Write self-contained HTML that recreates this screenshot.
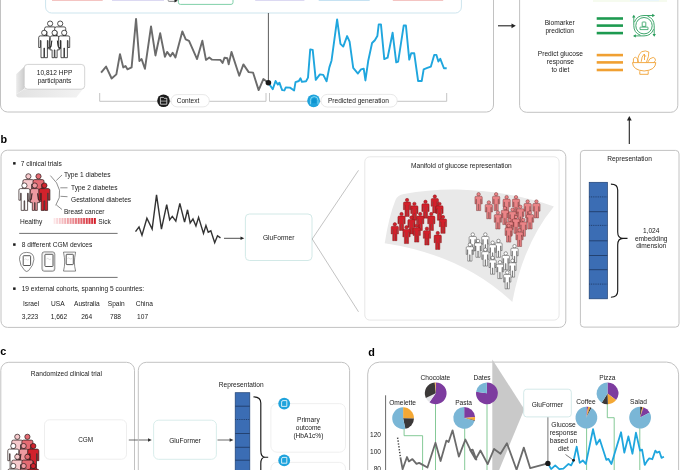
<!DOCTYPE html>
<html><head><meta charset="utf-8"><style>
html,body{margin:0;padding:0;background:#fff;}
body{width:685px;height:470px;overflow:hidden;}
svg{display:block;font-family:"Liberation Sans", sans-serif;will-change:transform;}
</style></head><body>
<svg width="685" height="470" viewBox="0 0 685 470">
<rect width="685" height="470" fill="#fff"/>
<rect x="0.5" y="-20" width="493" height="132" rx="7" fill="none" stroke="#c2c2c2" stroke-width="1"/>
<rect x="45.6" y="-30" width="415.8" height="43" rx="6" fill="none" stroke="#cde5ee" stroke-width="1"/>
<rect x="52" y="-1" width="50.7" height="2" fill="#f4c4c2"/>
<rect x="112" y="-1" width="52" height="2" fill="#dcd9f2"/>
<rect x="255.2" y="-1" width="49.2" height="2" fill="#dcd9f2"/>
<rect x="318.7" y="-1" width="51" height="2" fill="#c6e2f2"/>
<rect x="392.8" y="-1" width="50.4" height="2" fill="#f4c4c2"/>
<rect x="178.4" y="-10" width="54.6" height="14.4" rx="2" fill="none" stroke="#72cb9f" stroke-width="0.9"/>
<rect x="168.2" y="-3" width="7" height="4.5" rx="1" fill="#e8e8e8" stroke="#555" stroke-width="0.6"/>
<path d="M174.5,-1 L177.8,0.8 L174.5,2.6 Z" fill="#222"/>
<circle cx="50.1" cy="23.6" r="2.6" fill="#fff" stroke="#1a1a1a" stroke-width="0.75"/>
<path transform="translate(44.6,26.9)" d="M1.6,0 H9.4 A1.6,1.6 0 0 1 11,1.6 V11.6 H9.3 V4.6 H8.7 V21.8 H5.8 V12.2 H5.2 V21.8 H2.3 V4.6 H1.7 V11.6 H0 V1.6 A1.6,1.6 0 0 1 1.6,0 Z" fill="#fff" stroke="#1a1a1a" stroke-width="0.75"/>
<circle cx="60.2" cy="23.6" r="2.6" fill="#fff" stroke="#1a1a1a" stroke-width="0.75"/>
<path transform="translate(54.7,26.9)" d="M1.6,0 H9.4 A1.6,1.6 0 0 1 11,1.6 V11.6 H9.3 V4.6 H8.7 V21.8 H5.8 V12.2 H5.2 V21.8 H2.3 V4.6 H1.7 V11.6 H0 V1.6 A1.6,1.6 0 0 1 1.6,0 Z" fill="#fff" stroke="#1a1a1a" stroke-width="0.75"/>
<circle cx="44.2" cy="32.8" r="2.6" fill="#fff" stroke="#1a1a1a" stroke-width="0.75"/>
<path transform="translate(38.7,35.9)" d="M1.6,0 H9.4 A1.6,1.6 0 0 1 11,1.6 V11.6 H9.3 V4.6 H8.7 V21.8 H5.8 V12.2 H5.2 V21.8 H2.3 V4.6 H1.7 V11.6 H0 V1.6 A1.6,1.6 0 0 1 1.6,0 Z" fill="#fff" stroke="#1a1a1a" stroke-width="0.75"/>
<circle cx="54.6" cy="32.8" r="2.6" fill="#fff" stroke="#1a1a1a" stroke-width="0.75"/>
<path transform="translate(49.7,35.9)" d="M2.2,0 H7.6 A1.6,1.6 0 0 1 9.2,1.4 L9.8,10.8 H8.3 L7.7,4.8 L9.6,14 H7.4 V21.8 H5.2 V14 H4.6 V21.8 H2.4 V14 H0.2 L2.1,4.8 L1.5,10.8 H0 L0.6,1.4 A1.6,1.6 0 0 1 2.2,0 Z" fill="#fff" stroke="#1a1a1a" stroke-width="0.75"/>
<circle cx="64.2" cy="32.8" r="2.6" fill="#fff" stroke="#1a1a1a" stroke-width="0.75"/>
<path transform="translate(58.7,35.9)" d="M1.6,0 H9.4 A1.6,1.6 0 0 1 11,1.6 V11.6 H9.3 V4.6 H8.7 V21.8 H5.8 V12.2 H5.2 V21.8 H2.3 V4.6 H1.7 V11.6 H0 V1.6 A1.6,1.6 0 0 1 1.6,0 Z" fill="#fff" stroke="#1a1a1a" stroke-width="0.75"/>
<defs><linearGradient id="shL" x1="0" y1="0" x2="1" y2="0"><stop offset="0" stop-color="#ececec"/><stop offset="1" stop-color="#c9c9c9"/></linearGradient><linearGradient id="shB" x1="0" y1="0" x2="1" y2="0"><stop offset="0" stop-color="#e2e2e2"/><stop offset="1" stop-color="#f3f3f3"/></linearGradient></defs>
<path d="M24.2,89.2 L84.2,87.5 L76.2,97.4 L19.2,97.4 Q16.2,97.4 16.2,94.4 Z" fill="url(#shB)"/>
<path d="M25,66 L16.2,74.2 L16.2,94.4 L24.5,88.5 Z" fill="url(#shL)"/>
<rect x="24.2" y="64.4" width="60.5" height="24.8" rx="3.5" fill="#fff" stroke="#c8c8c8" stroke-width="0.8"/>
<text x="54.5" y="75.2" font-size="6.6" text-anchor="middle" font-weight="normal" fill="#1a1a1a" >10,812 HPP</text>
<text x="54.5" y="83.0" font-size="6.6" text-anchor="middle" font-weight="normal" fill="#1a1a1a" >participants</text>
<polyline points="101.1,72.68 106.09,66.57 111.64,78.5 116.35,74.34 119.96,54.09 123.29,67.41 125.51,66.02 127.45,69.35 131.61,67.41 136.05,18.86 139.38,61.03 141.6,59.08 144.92,68.79 151.03,26.35 155.46,55.48 160.18,33.29 164.9,56.87 167.12,51.87 170.44,56.31 172.66,52.7 175.44,57.42 182.37,31.35 185.7,39.39 189.03,40.78 197.07,59.08 202.34,40.78 205.95,59.92 209.28,57.42 212.05,59.64 220.37,59.92 222.59,62.97 224.54,57.7 227.31,58.25 228.7,64.36 231.47,51.87 239.24,75.73 243.4,64.36 248.67,72.12 253.11,72.68 258.65,90.15 263.37,79.06 268.36,82.66" fill="none" stroke="#6b6b6b" stroke-width="1.9" stroke-linejoin="round"/>
<polyline points="268.33,82.66 270.55,85.99 272.77,89.32 275.54,81.0 277.76,84.6 279.42,82.66 281.09,87.38 282.2,90.15 284.42,90.43 285.8,87.38 289.97,87.66 294.13,90.43 295.51,82.11 298.84,81.0 300.51,78.22 301.89,81.83 306.05,81.28 308.0,77.67 310.21,49.38 312.71,49.93 315.76,79.89 319.92,74.34 323.25,74.9 326.58,81.28 329.36,67.41 331.57,60.47 337.12,19.42 340.45,43.83 343.22,46.6 347.11,36.06 349.6,41.61 353.21,67.96 357.93,73.51 360.98,69.35 363.75,68.79 365.42,80.44 368.19,61.03 372.07,43.0 374.85,40.22 377.34,36.06 378.73,24.41 380.95,24.41 384.28,59.08 387.61,57.7 392.6,32.73 396.21,62.41 398.15,61.58 403.7,25.52 405.92,25.52 409.24,59.64 411.19,53.26 414.24,53.26 418.12,81.0 421.73,81.0 423.67,69.35 427.27,67.96 430.88,66.57 434.21,54.92 436.43,54.92 438.37,61.58 440.31,58.81 443.92,68.24 446.69,68.24" fill="none" stroke="#1fa6de" stroke-width="1.9" stroke-linejoin="round"/>
<line x1="268.4" y1="13" x2="268.4" y2="82.7" stroke="#333" stroke-width="0.8"/>
<circle cx="268.4" cy="82.7" r="2.8" fill="#1a1a1a"/>
<path d="M99.7,93 V101.3 H266 V93" fill="none" stroke="#bdbdbd" stroke-width="0.9"/>
<path d="M269.5,93 V101.3 H446.7 V93" fill="none" stroke="#bdbdbd" stroke-width="0.9"/>
<rect x="171" y="94.6" width="38.3" height="12.3" rx="6.15" fill="#fff" stroke="#e2e2e2" stroke-width="0.8"/>
<text x="188" y="103.1" font-size="6.5" text-anchor="middle" font-weight="normal" fill="#1a1a1a" >Context</text>
<circle cx="163.5" cy="100.8" r="6.3" fill="#1a1a1a"/>
<path d="M160.4,97.4 H163.4 L164.2,98.3 H166.8 V104.2 H160.4 Z" fill="none" stroke="#f2f2f2" stroke-width="0.75"/><line x1="160.6" y1="101.1" x2="166.6" y2="101.1" stroke="#f2f2f2" stroke-width="0.6"/>
<rect x="320.9" y="94.4" width="76.3" height="12.6" rx="6.3" fill="#fff" stroke="#e2e2e2" stroke-width="0.8"/>
<text x="358.4" y="103.1" font-size="6.6" text-anchor="middle" font-weight="normal" fill="#1a1a1a" >Predicted generation</text>
<circle cx="313.6" cy="100.8" r="6.4" fill="#1fa3dc"/>
<path d="M310.4,104.3 V100.4 A3.8,3.8 0 0 1 318,100.4 V104.3" fill="none" stroke="#9be6f9" stroke-width="0.8"/><path d="M312,103.2 V100.6 A2.2,2.4 0 0 1 316.4,100.6 V103.2 Z" fill="#0d94d0"/>
<line x1="498" y1="25.8" x2="512" y2="25.8" stroke="#222" stroke-width="1.1"/><path d="M511.5,23.4 L515.8,25.8 L511.5,28.2 Z" fill="#222"/>
<rect x="519.6" y="-20" width="158.2" height="132.3" rx="7" fill="none" stroke="#c2c2c2" stroke-width="1"/>
<rect x="593" y="-1" width="74" height="3" fill="#f6fbef"/>
<rect x="630" y="-1" width="29" height="2.2" fill="#eaf6fb"/>
<text x="559.7" y="24.8" font-size="6.6" text-anchor="middle" font-weight="normal" fill="#1a1a1a" >Biomarker</text>
<text x="559.7" y="32.9" font-size="6.6" text-anchor="middle" font-weight="normal" fill="#1a1a1a" >prediction</text>
<line x1="596.7" y1="18.5" x2="623" y2="18.5" stroke="#1d9a50" stroke-width="2.6"/>
<line x1="596.7" y1="25.6" x2="623" y2="25.6" stroke="#1d9a50" stroke-width="2.6"/>
<line x1="596.7" y1="33.1" x2="623" y2="33.1" stroke="#1d9a50" stroke-width="2.6"/>
<line x1="596.7" y1="55.1" x2="623" y2="55.1" stroke="#f0a032" stroke-width="2.6"/>
<line x1="596.7" y1="62.4" x2="623" y2="62.4" stroke="#f0a032" stroke-width="2.6"/>
<line x1="596.7" y1="70.0" x2="623" y2="70.0" stroke="#f0a032" stroke-width="2.6"/>
<text x="560.4" y="56.4" font-size="6.6" text-anchor="middle" font-weight="normal" fill="#1a1a1a" >Predict glucose</text>
<text x="560.4" y="64.3" font-size="6.6" text-anchor="middle" font-weight="normal" fill="#1a1a1a" >response</text>
<text x="560.4" y="71.8" font-size="6.6" text-anchor="middle" font-weight="normal" fill="#1a1a1a" >to diet</text>
<circle cx="644.0" cy="25.7" r="8.2" fill="none" stroke="#2a9d5c" stroke-width="0.9"/>
<path d="M642.2,26.4 V22.6 Q642.2,22 642.8,22 H645.2 Q645.8,22 645.8,22.6 V26.4 Z M640,29.6 V27.6 Q640,27.1 640.5,27.1 H647.5 Q648,27.1 648,27.6 V29.6 Z" fill="none" stroke="#2a9d5c" stroke-width="0.8"/>
<path d="M655.00,15.50 L652.20,17.20 L652.20,13.80 Z" fill="#2a9d5c"/>
<path d="M654.20,36.70 L652.50,33.90 L655.90,33.90 Z" fill="#2a9d5c"/>
<path d="M633.00,35.90 L635.80,34.20 L635.80,37.60 Z" fill="#2a9d5c"/>
<path d="M633.80,14.70 L635.50,17.50 L632.10,17.50 Z" fill="#2a9d5c"/>
<path d="M634.42,22.21 A10.2,10.2 0 0 1 644.00,15.50 L653.80,15.50 M647.49,16.12 A10.2,10.2 0 0 1 654.20,25.70 L654.20,35.50 M653.58,29.19 A10.2,10.2 0 0 1 644.00,35.90 L634.20,35.90 M640.51,35.28 A10.2,10.2 0 0 1 633.80,25.70 L633.80,15.90" fill="none" stroke="#2a9d5c" stroke-width="0.9"/>
<path d="M632.5,62.6 H655.8 Q655.5,70.2 644.15,71 Q632.8,70.2 632.5,62.6 Z" fill="#fff" stroke="#f0a032" stroke-width="0.9"/>
<path d="M639.8,71.2 V74.3 H648.2 V71.2" fill="none" stroke="#f0a032" stroke-width="0.9"/>
<path d="M633.4,62.4 Q632.6,57.8 635.2,57 Q638.2,57.8 638.6,62.4 M637.6,62.4 Q637.6,54.5 641.8,51.7 Q645.5,50 648.8,52 Q649.2,56 646.4,62.4 M641.2,61.8 Q641.5,56.5 644.2,54 M644.2,56 H646.2 M644.5,54 V60 M647.6,62.4 Q649.5,57.6 653.2,57.4 Q656,58.4 655.4,60.5 Q654.8,61.8 653.6,62.4" fill="none" stroke="#f0a032" stroke-width="0.85"/>
<line x1="629.3" y1="144" x2="629.3" y2="120" stroke="#222" stroke-width="1.1"/><path d="M626.9,120.4 L629.3,116 L631.7,120.4 Z" fill="#222"/>
<text x="0.5" y="142.6" font-size="10.8" text-anchor="start" font-weight="bold" fill="#000" >b</text>
<rect x="1" y="150.2" width="564.8" height="177.2" rx="6.5" fill="none" stroke="#c2c2c2" stroke-width="1"/>
<rect x="13.1" y="162.1" width="2.5" height="2.5" fill="#1a1a1a"/>
<text x="20.7" y="165.8" font-size="6.6" text-anchor="start" font-weight="normal" fill="#1a1a1a" >7 clinical trials</text>
<circle cx="28.4" cy="176.29999999999998" r="2.6" fill="#f6c9cc" stroke="#2a1a1a" stroke-width="0.7"/>
<path transform="translate(22.9,179.6)" d="M1.6,0 H9.4 A1.6,1.6 0 0 1 11,1.6 V11.6 H9.3 V4.6 H8.7 V21.8 H5.8 V12.2 H5.2 V21.8 H2.3 V4.6 H1.7 V11.6 H0 V1.6 A1.6,1.6 0 0 1 1.6,0 Z" fill="#f6c9cc" stroke="#2a1a1a" stroke-width="0.7"/>
<circle cx="38.5" cy="176.29999999999998" r="2.6" fill="#e56b73" stroke="#2a1a1a" stroke-width="0.7"/>
<path transform="translate(33.0,179.6)" d="M1.6,0 H9.4 A1.6,1.6 0 0 1 11,1.6 V11.6 H9.3 V4.6 H8.7 V21.8 H5.8 V12.2 H5.2 V21.8 H2.3 V4.6 H1.7 V11.6 H0 V1.6 A1.6,1.6 0 0 1 1.6,0 Z" fill="#e56b73" stroke="#2a1a1a" stroke-width="0.7"/>
<circle cx="24.4" cy="185.5" r="2.6" fill="#ffffff" stroke="#2a1a1a" stroke-width="0.7"/>
<path transform="translate(18.9,188.6)" d="M1.6,0 H9.4 A1.6,1.6 0 0 1 11,1.6 V11.6 H9.3 V4.6 H8.7 V21.8 H5.8 V12.2 H5.2 V21.8 H2.3 V4.6 H1.7 V11.6 H0 V1.6 A1.6,1.6 0 0 1 1.6,0 Z" fill="#ffffff" stroke="#2a1a1a" stroke-width="0.7"/>
<circle cx="34.8" cy="185.5" r="2.6" fill="#ee9aa1" stroke="#2a1a1a" stroke-width="0.7"/>
<path transform="translate(29.9,188.6)" d="M2.2,0 H7.6 A1.6,1.6 0 0 1 9.2,1.4 L9.8,10.8 H8.3 L7.7,4.8 L9.6,14 H7.4 V21.8 H5.2 V14 H4.6 V21.8 H2.4 V14 H0.2 L2.1,4.8 L1.5,10.8 H0 L0.6,1.4 A1.6,1.6 0 0 1 2.2,0 Z" fill="#ee9aa1" stroke="#2a1a1a" stroke-width="0.7"/>
<circle cx="44.4" cy="185.5" r="2.6" fill="#d1222c" stroke="#2a1a1a" stroke-width="0.7"/>
<path transform="translate(38.9,188.6)" d="M1.6,0 H9.4 A1.6,1.6 0 0 1 11,1.6 V11.6 H9.3 V4.6 H8.7 V21.8 H5.8 V12.2 H5.2 V21.8 H2.3 V4.6 H1.7 V11.6 H0 V1.6 A1.6,1.6 0 0 1 1.6,0 Z" fill="#d1222c" stroke="#2a1a1a" stroke-width="0.7"/>
<path d="M50.4,175.6 Q66,190 55.7,205.4" fill="none" stroke="#444" stroke-width="0.6"/>
<path d="M56.3,180.5 L62,175 M60.3,187.8 L67.5,187.8 M60.5,196.3 L67.5,196.7 M56.3,204.9 L62,209.5" fill="none" stroke="#444" stroke-width="0.6"/>
<text x="63.9" y="176.9" font-size="6.6" text-anchor="start" font-weight="normal" fill="#1a1a1a" >Type 1 diabetes</text>
<text x="71" y="189.6" font-size="6.6" text-anchor="start" font-weight="normal" fill="#1a1a1a" >Type 2 diabetes</text>
<text x="71" y="201.9" font-size="6.6" text-anchor="start" font-weight="normal" fill="#1a1a1a" >Gestational diabetes</text>
<text x="63.9" y="213.9" font-size="6.6" text-anchor="start" font-weight="normal" fill="#1a1a1a" >Breast cancer</text>
<text x="19.9" y="224.1" font-size="6.6" text-anchor="start" font-weight="normal" fill="#1a1a1a" >Healthy</text>
<defs><linearGradient id="hs" x1="0" x2="1"><stop offset="0" stop-color="#fde8ea"/><stop offset="1" stop-color="#d0101c"/></linearGradient><pattern id="stripes" x="53.5" width="2.7" height="10" patternUnits="userSpaceOnUse"><rect x="1.7" width="1.0" height="10" fill="#fff"/></pattern></defs>
<rect x="53.5" y="218" width="42.5" height="5.9" fill="url(#hs)"/>
<rect x="53.5" y="218" width="42.5" height="5.9" fill="url(#stripes)" opacity="0.8"/>
<text x="98.3" y="224.1" font-size="6.6" text-anchor="start" font-weight="normal" fill="#1a1a1a" >Sick</text>
<line x1="19.2" y1="233.4" x2="117.6" y2="233.4" stroke="#333" stroke-width="0.7"/>
<rect x="13.1" y="243.3" width="2.5" height="2.5" fill="#1a1a1a"/>
<text x="21.7" y="247" font-size="6.6" text-anchor="start" font-weight="normal" fill="#1a1a1a" >8 different CGM devices</text>
<path d="M19.5,259.5 Q19.3,252.4 26.7,252.4 Q34.1,252.4 33.9,259.5 Q33.6,265.5 28.6,270.6 Q26.7,272.4 24.8,270.6 Q19.8,265.5 19.5,259.5 Z" fill="#fff" stroke="#3a3a3a" stroke-width="0.6"/>
<rect x="23.2" y="255.7" width="7.4" height="9.8" rx="0.6" fill="#fff" stroke="#3a3a3a" stroke-width="0.85"/>
<rect x="42" y="251.9" width="12.8" height="19.3" rx="2.2" fill="#fff" stroke="#3a3a3a" stroke-width="0.6"/><rect x="42.8" y="252.7" width="11.2" height="17.7" rx="1.6" fill="none" stroke="#999" stroke-width="0.3"/>
<rect x="44.9" y="254.3" width="8.1" height="12.2" rx="0.7" fill="#fff" stroke="#3a3a3a" stroke-width="0.85"/>
<path d="M63.5,252.1 H75.6 Q74.4,258 74.4,262 Q74.4,266.5 75.6,271.1 H63.5 Q64.7,266.5 64.7,262 Q64.7,258 63.5,252.1 Z" fill="#fff" stroke="#3a3a3a" stroke-width="0.6"/>
<rect x="66.2" y="254.3" width="7.1" height="10.3" rx="0.6" fill="#fff" stroke="#3a3a3a" stroke-width="0.85"/>
<path d="M24.5,259.5 q1.2,-1.2 2.2,0 t2.2,0" fill="none" stroke="#aaa" stroke-width="0.4"/>
<path d="M46.5,259 q1.2,-1.2 2.2,0 t2.2,0" fill="none" stroke="#aaa" stroke-width="0.4"/>
<path d="M67.5,258.5 q1.2,-1.2 2.2,0 t2.2,0" fill="none" stroke="#aaa" stroke-width="0.4"/>
<line x1="19.2" y1="277.4" x2="117.6" y2="277.4" stroke="#333" stroke-width="0.7"/>
<rect x="13.1" y="287.4" width="2.5" height="2.5" fill="#1a1a1a"/>
<text x="21.7" y="291.1" font-size="6.6" text-anchor="start" font-weight="normal" fill="#1a1a1a" >19 external cohorts, spanning 5 countries:</text>
<text x="23" y="305.5" font-size="6.6" text-anchor="start" font-weight="normal" fill="#1a1a1a" >Israel</text>
<text x="51" y="305.5" font-size="6.6" text-anchor="start" font-weight="normal" fill="#1a1a1a" >USA</text>
<text x="74" y="305.5" font-size="6.6" text-anchor="start" font-weight="normal" fill="#1a1a1a" >Australia</text>
<text x="107.8" y="305.5" font-size="6.6" text-anchor="start" font-weight="normal" fill="#1a1a1a" >Spain</text>
<text x="135.7" y="305.5" font-size="6.6" text-anchor="start" font-weight="normal" fill="#1a1a1a" >China</text>
<text x="30" y="319.3" font-size="6.6" text-anchor="middle" font-weight="normal" fill="#1a1a1a" >3,223</text>
<text x="58.9" y="319.3" font-size="6.6" text-anchor="middle" font-weight="normal" fill="#1a1a1a" >1,662</text>
<text x="86.7" y="319.3" font-size="6.6" text-anchor="middle" font-weight="normal" fill="#1a1a1a" >264</text>
<text x="115.5" y="319.3" font-size="6.6" text-anchor="middle" font-weight="normal" fill="#1a1a1a" >788</text>
<text x="142.6" y="319.3" font-size="6.6" text-anchor="middle" font-weight="normal" fill="#1a1a1a" >107</text>
<polyline points="135.51,231.68 139.02,226.95 141.99,235.19 146.9,218.19 152.15,229.05 156.53,194.89 161.44,229.05 166.7,204.53 169.67,219.94 172.3,216.44 175.81,221.17 179.84,203.3 184.57,222.05 187.54,209.78 190.17,222.92 192.97,218.89 195.95,225.9 198.58,217.32 203.49,233.43 205.94,225.55 208.22,232.21 210.84,230.81 214.7,242.72 217.5,235.71 220.48,237.81" fill="none" stroke="#333" stroke-width="1.4" stroke-linejoin="miter"/>
<line x1="224" y1="238.3" x2="241" y2="238.3" stroke="#222" stroke-width="0.8"/><path d="M240.5,236.5 L244.2,238.3 L240.5,240.1 Z" fill="#222"/>
<rect x="245.4" y="214" width="66.6" height="46.5" rx="4" fill="#fff" stroke="#cde6e4" stroke-width="0.9"/>
<text x="278.7" y="240.4" font-size="6.6" text-anchor="middle" font-weight="normal" fill="#1a1a1a" >GluFormer</text>
<path d="M358.5,170.3 L312.2,239 L358.5,311.8" fill="none" stroke="#9a9a9a" stroke-width="0.6"/>
<rect x="364.8" y="156.8" width="194.3" height="163.3" rx="5" fill="#fff" stroke="#e4e4e4" stroke-width="0.9"/>
<text x="461.4" y="167.7" font-size="6.6" text-anchor="middle" font-weight="normal" fill="#1a1a1a" >Manifold of glucose representation</text>
<path d="M384.7,243.2 Q389,216 395.5,200 Q397.5,195 404,194 Q430,189 458,189.5 Q510,191 553.9,206.4 Q523,244 512.3,302 Q462.6,255 384.7,243.2 Z" fill="#e9e9e9"/>
<g transform="translate(478.61,194.22) scale(0.66)"><circle cx="0" cy="0" r="2.6" fill="#ea8487" stroke="#6e2a2a" stroke-width="0.68"/><path transform="translate(-5.5,3.0)" d="M1.6,0 H9.4 A1.6,1.6 0 0 1 11,1.6 V11.6 H9.3 V4.6 H8.7 V21.8 H5.8 V12.2 H5.2 V21.8 H2.3 V4.6 H1.7 V11.6 H0 V1.6 A1.6,1.6 0 0 1 1.6,0 Z" fill="#ea8487" stroke="#6e2a2a" stroke-width="0.68"/></g>
<g transform="translate(496.13,194.22) scale(0.66)"><circle cx="0" cy="0" r="2.6" fill="#ea8487" stroke="#6e2a2a" stroke-width="0.68"/><path transform="translate(-5.5,3.0)" d="M1.6,0 H9.4 A1.6,1.6 0 0 1 11,1.6 V11.6 H9.3 V4.6 H8.7 V21.8 H5.8 V12.2 H5.2 V21.8 H2.3 V4.6 H1.7 V11.6 H0 V1.6 A1.6,1.6 0 0 1 1.6,0 Z" fill="#ea8487" stroke="#6e2a2a" stroke-width="0.68"/></g>
<g transform="translate(434.82,196.56) scale(0.66)"><circle cx="0" cy="0" r="2.6" fill="#d2202b" stroke="#7d1414" stroke-width="0.68"/><path transform="translate(-5.5,3.0)" d="M1.6,0 H9.4 A1.6,1.6 0 0 1 11,1.6 V11.6 H9.3 V4.6 H8.7 V21.8 H5.8 V12.2 H5.2 V21.8 H2.3 V4.6 H1.7 V11.6 H0 V1.6 A1.6,1.6 0 0 1 1.6,0 Z" fill="#d2202b" stroke="#7d1414" stroke-width="0.68"/></g>
<g transform="translate(506.64,197.14) scale(0.66)"><circle cx="0" cy="0" r="2.6" fill="#ea8487" stroke="#6e2a2a" stroke-width="0.68"/><path transform="translate(-5.5,3.0)" d="M1.6,0 H9.4 A1.6,1.6 0 0 1 11,1.6 V11.6 H9.3 V4.6 H8.7 V21.8 H5.8 V12.2 H5.2 V21.8 H2.3 V4.6 H1.7 V11.6 H0 V1.6 A1.6,1.6 0 0 1 1.6,0 Z" fill="#ea8487" stroke="#6e2a2a" stroke-width="0.68"/></g>
<g transform="translate(515.99,197.14) scale(0.66)"><circle cx="0" cy="0" r="2.6" fill="#ea8487" stroke="#6e2a2a" stroke-width="0.68"/><path transform="translate(-5.5,3.0)" d="M1.6,0 H9.4 A1.6,1.6 0 0 1 11,1.6 V11.6 H9.3 V4.6 H8.7 V21.8 H5.8 V12.2 H5.2 V21.8 H2.3 V4.6 H1.7 V11.6 H0 V1.6 A1.6,1.6 0 0 1 1.6,0 Z" fill="#ea8487" stroke="#6e2a2a" stroke-width="0.68"/></g>
<g transform="translate(407.08,200.06) scale(0.66)"><circle cx="0" cy="0" r="2.6" fill="#d2202b" stroke="#7d1414" stroke-width="0.68"/><path transform="translate(-5.5,3.0)" d="M1.6,0 H9.4 A1.6,1.6 0 0 1 11,1.6 V11.6 H9.3 V4.6 H8.7 V21.8 H5.8 V12.2 H5.2 V21.8 H2.3 V4.6 H1.7 V11.6 H0 V1.6 A1.6,1.6 0 0 1 1.6,0 Z" fill="#d2202b" stroke="#7d1414" stroke-width="0.68"/></g>
<g transform="translate(527.66,201.52) scale(0.66)"><circle cx="0" cy="0" r="2.6" fill="#ea8487" stroke="#6e2a2a" stroke-width="0.68"/><path transform="translate(-5.5,3.0)" d="M1.6,0 H9.4 A1.6,1.6 0 0 1 11,1.6 V11.6 H9.3 V4.6 H8.7 V21.8 H5.8 V12.2 H5.2 V21.8 H2.3 V4.6 H1.7 V11.6 H0 V1.6 A1.6,1.6 0 0 1 1.6,0 Z" fill="#ea8487" stroke="#6e2a2a" stroke-width="0.68"/></g>
<g transform="translate(536.42,201.52) scale(0.66)"><circle cx="0" cy="0" r="2.6" fill="#ea8487" stroke="#6e2a2a" stroke-width="0.68"/><path transform="translate(-5.5,3.0)" d="M1.6,0 H9.4 A1.6,1.6 0 0 1 11,1.6 V11.6 H9.3 V4.6 H8.7 V21.8 H5.8 V12.2 H5.2 V21.8 H2.3 V4.6 H1.7 V11.6 H0 V1.6 A1.6,1.6 0 0 1 1.6,0 Z" fill="#ea8487" stroke="#6e2a2a" stroke-width="0.68"/></g>
<g transform="translate(425.47,201.81) scale(0.66)"><circle cx="0" cy="0" r="2.6" fill="#d2202b" stroke="#7d1414" stroke-width="0.68"/><path transform="translate(-5.5,3.0)" d="M1.6,0 H9.4 A1.6,1.6 0 0 1 11,1.6 V11.6 H9.3 V4.6 H8.7 V21.8 H5.8 V12.2 H5.2 V21.8 H2.3 V4.6 H1.7 V11.6 H0 V1.6 A1.6,1.6 0 0 1 1.6,0 Z" fill="#d2202b" stroke="#7d1414" stroke-width="0.68"/></g>
<g transform="translate(488.83,202.4) scale(0.66)"><circle cx="0" cy="0" r="2.6" fill="#ea8487" stroke="#6e2a2a" stroke-width="0.68"/><path transform="translate(-5.5,3.0)" d="M1.6,0 H9.4 A1.6,1.6 0 0 1 11,1.6 V11.6 H9.3 V4.6 H8.7 V21.8 H5.8 V12.2 H5.2 V21.8 H2.3 V4.6 H1.7 V11.6 H0 V1.6 A1.6,1.6 0 0 1 1.6,0 Z" fill="#ea8487" stroke="#6e2a2a" stroke-width="0.68"/></g>
<g transform="translate(414.38,203.86) scale(0.66)"><circle cx="0" cy="0" r="2.6" fill="#d2202b" stroke="#7d1414" stroke-width="0.68"/><path transform="translate(-5.5,3.0)" d="M1.6,0 H9.4 A1.6,1.6 0 0 1 11,1.6 V11.6 H9.3 V4.6 H8.7 V21.8 H5.8 V12.2 H5.2 V21.8 H2.3 V4.6 H1.7 V11.6 H0 V1.6 A1.6,1.6 0 0 1 1.6,0 Z" fill="#d2202b" stroke="#7d1414" stroke-width="0.68"/></g>
<g transform="translate(439.49,203.86) scale(0.66)"><circle cx="0" cy="0" r="2.6" fill="#d2202b" stroke="#7d1414" stroke-width="0.68"/><path transform="translate(-5.5,3.0)" d="M1.6,0 H9.4 A1.6,1.6 0 0 1 11,1.6 V11.6 H9.3 V4.6 H8.7 V21.8 H5.8 V12.2 H5.2 V21.8 H2.3 V4.6 H1.7 V11.6 H0 V1.6 A1.6,1.6 0 0 1 1.6,0 Z" fill="#d2202b" stroke="#7d1414" stroke-width="0.68"/></g>
<g transform="translate(520.36,206.78) scale(0.66)"><circle cx="0" cy="0" r="2.6" fill="#ea8487" stroke="#6e2a2a" stroke-width="0.68"/><path transform="translate(-5.5,3.0)" d="M1.6,0 H9.4 A1.6,1.6 0 0 1 11,1.6 V11.6 H9.3 V4.6 H8.7 V21.8 H5.8 V12.2 H5.2 V21.8 H2.3 V4.6 H1.7 V11.6 H0 V1.6 A1.6,1.6 0 0 1 1.6,0 Z" fill="#ea8487" stroke="#6e2a2a" stroke-width="0.68"/></g>
<g transform="translate(504.89,208.24) scale(0.66)"><circle cx="0" cy="0" r="2.6" fill="#ea8487" stroke="#6e2a2a" stroke-width="0.68"/><path transform="translate(-5.5,3.0)" d="M1.6,0 H9.4 A1.6,1.6 0 0 1 11,1.6 V11.6 H9.3 V4.6 H8.7 V21.8 H5.8 V12.2 H5.2 V21.8 H2.3 V4.6 H1.7 V11.6 H0 V1.6 A1.6,1.6 0 0 1 1.6,0 Z" fill="#ea8487" stroke="#6e2a2a" stroke-width="0.68"/></g>
<g transform="translate(512.48,209.7) scale(0.66)"><circle cx="0" cy="0" r="2.6" fill="#ea8487" stroke="#6e2a2a" stroke-width="0.68"/><path transform="translate(-5.5,3.0)" d="M1.6,0 H9.4 A1.6,1.6 0 0 1 11,1.6 V11.6 H9.3 V4.6 H8.7 V21.8 H5.8 V12.2 H5.2 V21.8 H2.3 V4.6 H1.7 V11.6 H0 V1.6 A1.6,1.6 0 0 1 1.6,0 Z" fill="#ea8487" stroke="#6e2a2a" stroke-width="0.68"/></g>
<g transform="translate(497.88,212.62) scale(0.66)"><circle cx="0" cy="0" r="2.6" fill="#ea8487" stroke="#6e2a2a" stroke-width="0.68"/><path transform="translate(-5.5,3.0)" d="M1.6,0 H9.4 A1.6,1.6 0 0 1 11,1.6 V11.6 H9.3 V4.6 H8.7 V21.8 H5.8 V12.2 H5.2 V21.8 H2.3 V4.6 H1.7 V11.6 H0 V1.6 A1.6,1.6 0 0 1 1.6,0 Z" fill="#ea8487" stroke="#6e2a2a" stroke-width="0.68"/></g>
<g transform="translate(530.0,212.62) scale(0.66)"><circle cx="0" cy="0" r="2.6" fill="#ea8487" stroke="#6e2a2a" stroke-width="0.68"/><path transform="translate(-5.5,3.0)" d="M1.6,0 H9.4 A1.6,1.6 0 0 1 11,1.6 V11.6 H9.3 V4.6 H8.7 V21.8 H5.8 V12.2 H5.2 V21.8 H2.3 V4.6 H1.7 V11.6 H0 V1.6 A1.6,1.6 0 0 1 1.6,0 Z" fill="#ea8487" stroke="#6e2a2a" stroke-width="0.68"/></g>
<g transform="translate(401.53,214.08) scale(0.66)"><circle cx="0" cy="0" r="2.6" fill="#d2202b" stroke="#7d1414" stroke-width="0.68"/><path transform="translate(-5.5,3.0)" d="M1.6,0 H9.4 A1.6,1.6 0 0 1 11,1.6 V11.6 H9.3 V4.6 H8.7 V21.8 H5.8 V12.2 H5.2 V21.8 H2.3 V4.6 H1.7 V11.6 H0 V1.6 A1.6,1.6 0 0 1 1.6,0 Z" fill="#d2202b" stroke="#7d1414" stroke-width="0.68"/></g>
<g transform="translate(420.22,214.08) scale(0.66)"><circle cx="0" cy="0" r="2.6" fill="#d2202b" stroke="#7d1414" stroke-width="0.68"/><path transform="translate(-5.5,3.0)" d="M1.6,0 H9.4 A1.6,1.6 0 0 1 11,1.6 V11.6 H9.3 V4.6 H8.7 V21.8 H5.8 V12.2 H5.2 V21.8 H2.3 V4.6 H1.7 V11.6 H0 V1.6 A1.6,1.6 0 0 1 1.6,0 Z" fill="#d2202b" stroke="#7d1414" stroke-width="0.68"/></g>
<g transform="translate(431.31,214.08) scale(0.66)"><circle cx="0" cy="0" r="2.6" fill="#d2202b" stroke="#7d1414" stroke-width="0.68"/><path transform="translate(-5.5,3.0)" d="M1.6,0 H9.4 A1.6,1.6 0 0 1 11,1.6 V11.6 H9.3 V4.6 H8.7 V21.8 H5.8 V12.2 H5.2 V21.8 H2.3 V4.6 H1.7 V11.6 H0 V1.6 A1.6,1.6 0 0 1 1.6,0 Z" fill="#d2202b" stroke="#7d1414" stroke-width="0.68"/></g>
<g transform="translate(442.99,217.0) scale(0.66)"><circle cx="0" cy="0" r="2.6" fill="#d2202b" stroke="#7d1414" stroke-width="0.68"/><path transform="translate(-5.5,3.0)" d="M1.6,0 H9.4 A1.6,1.6 0 0 1 11,1.6 V11.6 H9.3 V4.6 H8.7 V21.8 H5.8 V12.2 H5.2 V21.8 H2.3 V4.6 H1.7 V11.6 H0 V1.6 A1.6,1.6 0 0 1 1.6,0 Z" fill="#d2202b" stroke="#7d1414" stroke-width="0.68"/></g>
<g transform="translate(515.99,217.0) scale(0.66)"><circle cx="0" cy="0" r="2.6" fill="#ea8487" stroke="#6e2a2a" stroke-width="0.68"/><path transform="translate(-5.5,3.0)" d="M1.6,0 H9.4 A1.6,1.6 0 0 1 11,1.6 V11.6 H9.3 V4.6 H8.7 V21.8 H5.8 V12.2 H5.2 V21.8 H2.3 V4.6 H1.7 V11.6 H0 V1.6 A1.6,1.6 0 0 1 1.6,0 Z" fill="#ea8487" stroke="#6e2a2a" stroke-width="0.68"/></g>
<g transform="translate(411.46,217.58) scale(0.66)"><circle cx="0" cy="0" r="2.6" fill="#d2202b" stroke="#7d1414" stroke-width="0.68"/><path transform="translate(-5.5,3.0)" d="M1.6,0 H9.4 A1.6,1.6 0 0 1 11,1.6 V11.6 H9.3 V4.6 H8.7 V21.8 H5.8 V12.2 H5.2 V21.8 H2.3 V4.6 H1.7 V11.6 H0 V1.6 A1.6,1.6 0 0 1 1.6,0 Z" fill="#d2202b" stroke="#7d1414" stroke-width="0.68"/></g>
<g transform="translate(509.56,219.92) scale(0.66)"><circle cx="0" cy="0" r="2.6" fill="#ea8487" stroke="#6e2a2a" stroke-width="0.68"/><path transform="translate(-5.5,3.0)" d="M1.6,0 H9.4 A1.6,1.6 0 0 1 11,1.6 V11.6 H9.3 V4.6 H8.7 V21.8 H5.8 V12.2 H5.2 V21.8 H2.3 V4.6 H1.7 V11.6 H0 V1.6 A1.6,1.6 0 0 1 1.6,0 Z" fill="#ea8487" stroke="#6e2a2a" stroke-width="0.68"/></g>
<g transform="translate(523.28,219.92) scale(0.66)"><circle cx="0" cy="0" r="2.6" fill="#ea8487" stroke="#6e2a2a" stroke-width="0.68"/><path transform="translate(-5.5,3.0)" d="M1.6,0 H9.4 A1.6,1.6 0 0 1 11,1.6 V11.6 H9.3 V4.6 H8.7 V21.8 H5.8 V12.2 H5.2 V21.8 H2.3 V4.6 H1.7 V11.6 H0 V1.6 A1.6,1.6 0 0 1 1.6,0 Z" fill="#ea8487" stroke="#6e2a2a" stroke-width="0.68"/></g>
<g transform="translate(394.82,224.29) scale(0.66)"><circle cx="0" cy="0" r="2.6" fill="#d2202b" stroke="#7d1414" stroke-width="0.68"/><path transform="translate(-5.5,3.0)" d="M1.6,0 H9.4 A1.6,1.6 0 0 1 11,1.6 V11.6 H9.3 V4.6 H8.7 V21.8 H5.8 V12.2 H5.2 V21.8 H2.3 V4.6 H1.7 V11.6 H0 V1.6 A1.6,1.6 0 0 1 1.6,0 Z" fill="#d2202b" stroke="#7d1414" stroke-width="0.68"/></g>
<g transform="translate(416.72,225.75) scale(0.66)"><circle cx="0" cy="0" r="2.6" fill="#d2202b" stroke="#7d1414" stroke-width="0.68"/><path transform="translate(-5.5,3.0)" d="M1.6,0 H9.4 A1.6,1.6 0 0 1 11,1.6 V11.6 H9.3 V4.6 H8.7 V21.8 H5.8 V12.2 H5.2 V21.8 H2.3 V4.6 H1.7 V11.6 H0 V1.6 A1.6,1.6 0 0 1 1.6,0 Z" fill="#d2202b" stroke="#7d1414" stroke-width="0.68"/></g>
<g transform="translate(508.69,225.75) scale(0.66)"><circle cx="0" cy="0" r="2.6" fill="#ea8487" stroke="#6e2a2a" stroke-width="0.68"/><path transform="translate(-5.5,3.0)" d="M1.6,0 H9.4 A1.6,1.6 0 0 1 11,1.6 V11.6 H9.3 V4.6 H8.7 V21.8 H5.8 V12.2 H5.2 V21.8 H2.3 V4.6 H1.7 V11.6 H0 V1.6 A1.6,1.6 0 0 1 1.6,0 Z" fill="#ea8487" stroke="#6e2a2a" stroke-width="0.68"/></g>
<g transform="translate(406.5,227.21) scale(0.66)"><circle cx="0" cy="0" r="2.6" fill="#d2202b" stroke="#7d1414" stroke-width="0.68"/><path transform="translate(-5.5,3.0)" d="M1.6,0 H9.4 A1.6,1.6 0 0 1 11,1.6 V11.6 H9.3 V4.6 H8.7 V21.8 H5.8 V12.2 H5.2 V21.8 H2.3 V4.6 H1.7 V11.6 H0 V1.6 A1.6,1.6 0 0 1 1.6,0 Z" fill="#d2202b" stroke="#7d1414" stroke-width="0.68"/></g>
<g transform="translate(426.93,228.67) scale(0.66)"><circle cx="0" cy="0" r="2.6" fill="#d2202b" stroke="#7d1414" stroke-width="0.68"/><path transform="translate(-5.5,3.0)" d="M1.6,0 H9.4 A1.6,1.6 0 0 1 11,1.6 V11.6 H9.3 V4.6 H8.7 V21.8 H5.8 V12.2 H5.2 V21.8 H2.3 V4.6 H1.7 V11.6 H0 V1.6 A1.6,1.6 0 0 1 1.6,0 Z" fill="#d2202b" stroke="#7d1414" stroke-width="0.68"/></g>
<g transform="translate(519.49,230.13) scale(0.66)"><circle cx="0" cy="0" r="2.6" fill="#ea8487" stroke="#6e2a2a" stroke-width="0.68"/><path transform="translate(-5.5,3.0)" d="M1.6,0 H9.4 A1.6,1.6 0 0 1 11,1.6 V11.6 H9.3 V4.6 H8.7 V21.8 H5.8 V12.2 H5.2 V21.8 H2.3 V4.6 H1.7 V11.6 H0 V1.6 A1.6,1.6 0 0 1 1.6,0 Z" fill="#ea8487" stroke="#6e2a2a" stroke-width="0.68"/></g>
<g transform="translate(437.74,233.05) scale(0.66)"><circle cx="0" cy="0" r="2.6" fill="#d2202b" stroke="#7d1414" stroke-width="0.68"/><path transform="translate(-5.5,3.0)" d="M1.6,0 H9.4 A1.6,1.6 0 0 1 11,1.6 V11.6 H9.3 V4.6 H8.7 V21.8 H5.8 V12.2 H5.2 V21.8 H2.3 V4.6 H1.7 V11.6 H0 V1.6 A1.6,1.6 0 0 1 1.6,0 Z" fill="#d2202b" stroke="#7d1414" stroke-width="0.68"/></g>
<g transform="translate(472.77,234.51) scale(0.66)"><circle cx="0" cy="0" r="2.6" fill="#ffffff" stroke="#2a2a2a" stroke-width="0.68"/><path transform="translate(-5.5,3.0)" d="M1.6,0 H9.4 A1.6,1.6 0 0 1 11,1.6 V11.6 H9.3 V4.6 H8.7 V21.8 H5.8 V12.2 H5.2 V21.8 H2.3 V4.6 H1.7 V11.6 H0 V1.6 A1.6,1.6 0 0 1 1.6,0 Z" fill="#ffffff" stroke="#2a2a2a" stroke-width="0.68"/></g>
<g transform="translate(485.33,234.51) scale(0.66)"><circle cx="0" cy="0" r="2.6" fill="#ffffff" stroke="#2a2a2a" stroke-width="0.68"/><path transform="translate(-5.5,3.0)" d="M1.6,0 H9.4 A1.6,1.6 0 0 1 11,1.6 V11.6 H9.3 V4.6 H8.7 V21.8 H5.8 V12.2 H5.2 V21.8 H2.3 V4.6 H1.7 V11.6 H0 V1.6 A1.6,1.6 0 0 1 1.6,0 Z" fill="#ffffff" stroke="#2a2a2a" stroke-width="0.68"/></g>
<g transform="translate(498.47,240.94) scale(0.66)"><circle cx="0" cy="0" r="2.6" fill="#ffffff" stroke="#2a2a2a" stroke-width="0.68"/><path transform="translate(-5.5,3.0)" d="M1.6,0 H9.4 A1.6,1.6 0 0 1 11,1.6 V11.6 H9.3 V4.6 H8.7 V21.8 H5.8 V12.2 H5.2 V21.8 H2.3 V4.6 H1.7 V11.6 H0 V1.6 A1.6,1.6 0 0 1 1.6,0 Z" fill="#ffffff" stroke="#2a2a2a" stroke-width="0.68"/></g>
<g transform="translate(478.03,240.94) scale(0.66)"><circle cx="0" cy="0" r="2.6" fill="#ffffff" stroke="#2a2a2a" stroke-width="0.68"/><path transform="translate(-5.5,3.0)" d="M1.6,0 H9.4 A1.6,1.6 0 0 1 11,1.6 V11.6 H9.3 V4.6 H8.7 V21.8 H5.8 V12.2 H5.2 V21.8 H2.3 V4.6 H1.7 V11.6 H0 V1.6 A1.6,1.6 0 0 1 1.6,0 Z" fill="#ffffff" stroke="#2a2a2a" stroke-width="0.68"/></g>
<g transform="translate(492.63,242.69) scale(0.66)"><circle cx="0" cy="0" r="2.6" fill="#ffffff" stroke="#2a2a2a" stroke-width="0.68"/><path transform="translate(-5.5,3.0)" d="M1.6,0 H9.4 A1.6,1.6 0 0 1 11,1.6 V11.6 H9.3 V4.6 H8.7 V21.8 H5.8 V12.2 H5.2 V21.8 H2.3 V4.6 H1.7 V11.6 H0 V1.6 A1.6,1.6 0 0 1 1.6,0 Z" fill="#ffffff" stroke="#2a2a2a" stroke-width="0.68"/></g>
<g transform="translate(469.85,244.73) scale(0.66)"><circle cx="0" cy="0" r="2.6" fill="#ffffff" stroke="#2a2a2a" stroke-width="0.68"/><path transform="translate(-5.5,3.0)" d="M1.6,0 H9.4 A1.6,1.6 0 0 1 11,1.6 V11.6 H9.3 V4.6 H8.7 V21.8 H5.8 V12.2 H5.2 V21.8 H2.3 V4.6 H1.7 V11.6 H0 V1.6 A1.6,1.6 0 0 1 1.6,0 Z" fill="#ffffff" stroke="#2a2a2a" stroke-width="0.68"/></g>
<g transform="translate(514.53,246.19) scale(0.66)"><circle cx="0" cy="0" r="2.6" fill="#ffffff" stroke="#2a2a2a" stroke-width="0.68"/><path transform="translate(-5.5,3.0)" d="M1.6,0 H9.4 A1.6,1.6 0 0 1 11,1.6 V11.6 H9.3 V4.6 H8.7 V21.8 H5.8 V12.2 H5.2 V21.8 H2.3 V4.6 H1.7 V11.6 H0 V1.6 A1.6,1.6 0 0 1 1.6,0 Z" fill="#ffffff" stroke="#2a2a2a" stroke-width="0.68"/></g>
<g transform="translate(485.33,249.7) scale(0.66)"><circle cx="0" cy="0" r="2.6" fill="#ffffff" stroke="#2a2a2a" stroke-width="0.68"/><path transform="translate(-5.5,3.0)" d="M1.6,0 H9.4 A1.6,1.6 0 0 1 11,1.6 V11.6 H9.3 V4.6 H8.7 V21.8 H5.8 V12.2 H5.2 V21.8 H2.3 V4.6 H1.7 V11.6 H0 V1.6 A1.6,1.6 0 0 1 1.6,0 Z" fill="#ffffff" stroke="#2a2a2a" stroke-width="0.68"/></g>
<g transform="translate(505.77,253.49) scale(0.66)"><circle cx="0" cy="0" r="2.6" fill="#ffffff" stroke="#2a2a2a" stroke-width="0.68"/><path transform="translate(-5.5,3.0)" d="M1.6,0 H9.4 A1.6,1.6 0 0 1 11,1.6 V11.6 H9.3 V4.6 H8.7 V21.8 H5.8 V12.2 H5.2 V21.8 H2.3 V4.6 H1.7 V11.6 H0 V1.6 A1.6,1.6 0 0 1 1.6,0 Z" fill="#ffffff" stroke="#2a2a2a" stroke-width="0.68"/></g>
<g transform="translate(492.63,257.87) scale(0.66)"><circle cx="0" cy="0" r="2.6" fill="#ffffff" stroke="#2a2a2a" stroke-width="0.68"/><path transform="translate(-5.5,3.0)" d="M1.6,0 H9.4 A1.6,1.6 0 0 1 11,1.6 V11.6 H9.3 V4.6 H8.7 V21.8 H5.8 V12.2 H5.2 V21.8 H2.3 V4.6 H1.7 V11.6 H0 V1.6 A1.6,1.6 0 0 1 1.6,0 Z" fill="#ffffff" stroke="#2a2a2a" stroke-width="0.68"/></g>
<g transform="translate(512.48,260.79) scale(0.66)"><circle cx="0" cy="0" r="2.6" fill="#ffffff" stroke="#2a2a2a" stroke-width="0.68"/><path transform="translate(-5.5,3.0)" d="M1.6,0 H9.4 A1.6,1.6 0 0 1 11,1.6 V11.6 H9.3 V4.6 H8.7 V21.8 H5.8 V12.2 H5.2 V21.8 H2.3 V4.6 H1.7 V11.6 H0 V1.6 A1.6,1.6 0 0 1 1.6,0 Z" fill="#ffffff" stroke="#2a2a2a" stroke-width="0.68"/></g>
<g transform="translate(499.93,262.25) scale(0.66)"><circle cx="0" cy="0" r="2.6" fill="#ffffff" stroke="#2a2a2a" stroke-width="0.68"/><path transform="translate(-5.5,3.0)" d="M1.6,0 H9.4 A1.6,1.6 0 0 1 11,1.6 V11.6 H9.3 V4.6 H8.7 V21.8 H5.8 V12.2 H5.2 V21.8 H2.3 V4.6 H1.7 V11.6 H0 V1.6 A1.6,1.6 0 0 1 1.6,0 Z" fill="#ffffff" stroke="#2a2a2a" stroke-width="0.68"/></g>
<g transform="translate(507.23,272.47) scale(0.66)"><circle cx="0" cy="0" r="2.6" fill="#ffffff" stroke="#2a2a2a" stroke-width="0.68"/><path transform="translate(-5.5,3.0)" d="M1.6,0 H9.4 A1.6,1.6 0 0 1 11,1.6 V11.6 H9.3 V4.6 H8.7 V21.8 H5.8 V12.2 H5.2 V21.8 H2.3 V4.6 H1.7 V11.6 H0 V1.6 A1.6,1.6 0 0 1 1.6,0 Z" fill="#ffffff" stroke="#2a2a2a" stroke-width="0.68"/></g>
<rect x="580.4" y="150.4" width="98.6" height="176.7" rx="3.5" fill="none" stroke="#c2c2c2" stroke-width="1"/>
<text x="629.5" y="161" font-size="6.6" text-anchor="middle" font-weight="normal" fill="#1a1a1a" >Representation</text>
<rect x="589.2" y="182.3" width="18.2" height="116.5" fill="#3b6db4" stroke="#1d3f73" stroke-width="0.7"/>
<line x1="589.2" y1="196.9" x2="607.4" y2="196.9" stroke="#1a2f55" stroke-width="0.7" stroke-dasharray="1 0.8"/>
<line x1="589.2" y1="211.7" x2="607.4" y2="211.7" stroke="#1a2f55" stroke-width="0.7"/>
<line x1="589.2" y1="225.4" x2="607.4" y2="225.4" stroke="#1a2f55" stroke-width="0.7" stroke-dasharray="1 0.8"/>
<line x1="589.2" y1="240.8" x2="607.4" y2="240.8" stroke="#1a2f55" stroke-width="0.7"/>
<line x1="589.2" y1="255.5" x2="607.4" y2="255.5" stroke="#1a2f55" stroke-width="0.7"/>
<line x1="589.2" y1="269.7" x2="607.4" y2="269.7" stroke="#1a2f55" stroke-width="0.7"/>
<line x1="589.2" y1="284.1" x2="607.4" y2="284.1" stroke="#1a2f55" stroke-width="0.7" stroke-dasharray="1 0.8"/>
<path d="M610.9,184.1 Q617.7,184.1 617.7,190 V232 Q617.7,238.4 623,238.4 H627.5 M623,238.4 Q617.7,238.4 617.7,245 V291 Q617.7,297.2 610.9,297.2" fill="none" stroke="#1a1a1a" stroke-width="1.15"/>
<text x="651.2" y="232.6" font-size="6.6" text-anchor="middle" font-weight="normal" fill="#1a1a1a" >1,024</text>
<text x="651.2" y="240.6" font-size="6.6" text-anchor="middle" font-weight="normal" fill="#1a1a1a" >embedding</text>
<text x="651.2" y="248.2" font-size="6.6" text-anchor="middle" font-weight="normal" fill="#1a1a1a" >dimension</text>
<text x="0.3" y="354.8" font-size="10.8" text-anchor="start" font-weight="bold" fill="#000" >c</text>
<rect x="0.8" y="362.3" width="133.7" height="200" rx="8" fill="none" stroke="#c2c2c2" stroke-width="1"/>
<text x="66.4" y="375.7" font-size="6.6" text-anchor="middle" font-weight="normal" fill="#1a1a1a" >Randomized clinical trial</text>
<rect x="44.5" y="419.8" width="82" height="39.4" rx="5" fill="#fff" stroke="#ececec" stroke-width="0.9"/>
<text x="85.7" y="442.3" font-size="6.4" text-anchor="middle" font-weight="normal" fill="#1a1a1a" >CGM</text>
<circle cx="17.299999999999997" cy="436.8" r="2.6" fill="#f6c9cc" stroke="#2a1a1a" stroke-width="0.7"/>
<path transform="translate(11.799999999999997,440.09999999999997)" d="M1.6,0 H9.4 A1.6,1.6 0 0 1 11,1.6 V11.6 H9.3 V4.6 H8.7 V21.8 H5.8 V12.2 H5.2 V21.8 H2.3 V4.6 H1.7 V11.6 H0 V1.6 A1.6,1.6 0 0 1 1.6,0 Z" fill="#f6c9cc" stroke="#2a1a1a" stroke-width="0.7"/>
<circle cx="27.4" cy="436.8" r="2.6" fill="#e56b73" stroke="#2a1a1a" stroke-width="0.7"/>
<path transform="translate(21.9,440.09999999999997)" d="M1.6,0 H9.4 A1.6,1.6 0 0 1 11,1.6 V11.6 H9.3 V4.6 H8.7 V21.8 H5.8 V12.2 H5.2 V21.8 H2.3 V4.6 H1.7 V11.6 H0 V1.6 A1.6,1.6 0 0 1 1.6,0 Z" fill="#e56b73" stroke="#2a1a1a" stroke-width="0.7"/>
<circle cx="13.3" cy="446.0" r="2.6" fill="#ffffff" stroke="#2a1a1a" stroke-width="0.7"/>
<path transform="translate(7.800000000000001,449.09999999999997)" d="M1.6,0 H9.4 A1.6,1.6 0 0 1 11,1.6 V11.6 H9.3 V4.6 H8.7 V21.8 H5.8 V12.2 H5.2 V21.8 H2.3 V4.6 H1.7 V11.6 H0 V1.6 A1.6,1.6 0 0 1 1.6,0 Z" fill="#ffffff" stroke="#2a1a1a" stroke-width="0.7"/>
<circle cx="23.700000000000003" cy="446.0" r="2.6" fill="#ee9aa1" stroke="#2a1a1a" stroke-width="0.7"/>
<path transform="translate(18.800000000000004,449.09999999999997)" d="M2.2,0 H7.6 A1.6,1.6 0 0 1 9.2,1.4 L9.8,10.8 H8.3 L7.7,4.8 L9.6,14 H7.4 V21.8 H5.2 V14 H4.6 V21.8 H2.4 V14 H0.2 L2.1,4.8 L1.5,10.8 H0 L0.6,1.4 A1.6,1.6 0 0 1 2.2,0 Z" fill="#ee9aa1" stroke="#2a1a1a" stroke-width="0.7"/>
<circle cx="33.3" cy="446.0" r="2.6" fill="#d1222c" stroke="#2a1a1a" stroke-width="0.7"/>
<path transform="translate(27.799999999999997,449.09999999999997)" d="M1.6,0 H9.4 A1.6,1.6 0 0 1 11,1.6 V11.6 H9.3 V4.6 H8.7 V21.8 H5.8 V12.2 H5.2 V21.8 H2.3 V4.6 H1.7 V11.6 H0 V1.6 A1.6,1.6 0 0 1 1.6,0 Z" fill="#d1222c" stroke="#2a1a1a" stroke-width="0.7"/>
<circle cx="17.299999999999997" cy="456.8" r="2.6" fill="#f6c9cc" stroke="#2a1a1a" stroke-width="0.7"/>
<path transform="translate(11.799999999999997,460.09999999999997)" d="M1.6,0 H9.4 A1.6,1.6 0 0 1 11,1.6 V11.6 H9.3 V4.6 H8.7 V21.8 H5.8 V12.2 H5.2 V21.8 H2.3 V4.6 H1.7 V11.6 H0 V1.6 A1.6,1.6 0 0 1 1.6,0 Z" fill="#f6c9cc" stroke="#2a1a1a" stroke-width="0.7"/>
<circle cx="27.4" cy="456.8" r="2.6" fill="#e56b73" stroke="#2a1a1a" stroke-width="0.7"/>
<path transform="translate(21.9,460.09999999999997)" d="M1.6,0 H9.4 A1.6,1.6 0 0 1 11,1.6 V11.6 H9.3 V4.6 H8.7 V21.8 H5.8 V12.2 H5.2 V21.8 H2.3 V4.6 H1.7 V11.6 H0 V1.6 A1.6,1.6 0 0 1 1.6,0 Z" fill="#e56b73" stroke="#2a1a1a" stroke-width="0.7"/>
<circle cx="13.3" cy="466.0" r="2.6" fill="#ffffff" stroke="#2a1a1a" stroke-width="0.7"/>
<path transform="translate(7.800000000000001,469.09999999999997)" d="M1.6,0 H9.4 A1.6,1.6 0 0 1 11,1.6 V11.6 H9.3 V4.6 H8.7 V21.8 H5.8 V12.2 H5.2 V21.8 H2.3 V4.6 H1.7 V11.6 H0 V1.6 A1.6,1.6 0 0 1 1.6,0 Z" fill="#ffffff" stroke="#2a1a1a" stroke-width="0.7"/>
<circle cx="23.700000000000003" cy="466.0" r="2.6" fill="#ee9aa1" stroke="#2a1a1a" stroke-width="0.7"/>
<path transform="translate(18.800000000000004,469.09999999999997)" d="M2.2,0 H7.6 A1.6,1.6 0 0 1 9.2,1.4 L9.8,10.8 H8.3 L7.7,4.8 L9.6,14 H7.4 V21.8 H5.2 V14 H4.6 V21.8 H2.4 V14 H0.2 L2.1,4.8 L1.5,10.8 H0 L0.6,1.4 A1.6,1.6 0 0 1 2.2,0 Z" fill="#ee9aa1" stroke="#2a1a1a" stroke-width="0.7"/>
<circle cx="33.3" cy="466.0" r="2.6" fill="#d1222c" stroke="#2a1a1a" stroke-width="0.7"/>
<path transform="translate(27.799999999999997,469.09999999999997)" d="M1.6,0 H9.4 A1.6,1.6 0 0 1 11,1.6 V11.6 H9.3 V4.6 H8.7 V21.8 H5.8 V12.2 H5.2 V21.8 H2.3 V4.6 H1.7 V11.6 H0 V1.6 A1.6,1.6 0 0 1 1.6,0 Z" fill="#d1222c" stroke="#2a1a1a" stroke-width="0.7"/>
<line x1="128.8" y1="440" x2="148.5" y2="440" stroke="#444" stroke-width="0.8"/><path d="M148,438.2 L151.8,440 L148,441.8 Z" fill="#333"/>
<rect x="138.3" y="362.3" width="211.3" height="200" rx="8" fill="none" stroke="#c2c2c2" stroke-width="1"/>
<rect x="153.6" y="420.2" width="62.8" height="39.1" rx="5" fill="#fff" stroke="#d5ebe9" stroke-width="0.9"/>
<text x="185" y="442.9" font-size="6.6" text-anchor="middle" font-weight="normal" fill="#1a1a1a" >GluFormer</text>
<line x1="217.5" y1="440" x2="230" y2="440" stroke="#444" stroke-width="0.8"/><path d="M229.6,438.2 L233.5,440 L229.6,441.8 Z" fill="#333"/>
<text x="241.2" y="387.4" font-size="6.6" text-anchor="middle" font-weight="normal" fill="#1a1a1a" >Representation</text>
<rect x="235.2" y="392.7" width="14.6" height="90" fill="#3b6db4" stroke="#1d3f73" stroke-width="0.7"/>
<line x1="235.2" y1="406.2" x2="249.8" y2="406.2" stroke="#1a2f55" stroke-width="0.7"/>
<line x1="235.2" y1="419.5" x2="249.8" y2="419.5" stroke="#1a2f55" stroke-width="0.7" stroke-dasharray="1 0.8"/>
<line x1="235.2" y1="433.5" x2="249.8" y2="433.5" stroke="#1a2f55" stroke-width="0.7"/>
<line x1="235.2" y1="447.3" x2="249.8" y2="447.3" stroke="#1a2f55" stroke-width="0.7"/>
<line x1="235.2" y1="460.2" x2="249.8" y2="460.2" stroke="#1a2f55" stroke-width="0.7"/>
<path d="M253.5,396.8 Q260.8,396.8 260.8,403 V450.5 Q260.8,457.2 265,457.2 H268.2 M265,457.2 Q260.8,457.2 260.8,463.5 V520" fill="none" stroke="#1a1a1a" stroke-width="1.15"/>
<rect x="270.9" y="403.6" width="74.6" height="48.6" rx="6" fill="#fff" stroke="#ededed" stroke-width="0.9"/>
<rect x="270.9" y="462.4" width="74.6" height="48.6" rx="6" fill="#fff" stroke="#ededed" stroke-width="0.9"/>
<text x="308.4" y="421.8" font-size="6.6" text-anchor="middle" font-weight="normal" fill="#1a1a1a" >Primary</text>
<text x="308.4" y="429.7" font-size="6.6" text-anchor="middle" font-weight="normal" fill="#1a1a1a" >outcome</text>
<text x="308.4" y="437.9" font-size="6.6" text-anchor="middle" font-weight="normal" fill="#1a1a1a" >(HbA1c%)</text>
<circle cx="284.2" cy="403.6" r="5.9" fill="#1fa3dc"/>
<path d="M281.6,406.40000000000003 V402.1 Q281.6,400.6 283,400.6 H286.8 V406.40000000000003 Z" fill="none" stroke="#fff" stroke-width="0.8"/>
<circle cx="284.2" cy="460.4" r="5.9" fill="#1fa3dc"/>
<path d="M281.6,463.2 V458.9 Q281.6,457.4 283,457.4 H286.8 V463.2 Z" fill="none" stroke="#fff" stroke-width="0.8"/>
<text x="368.2" y="355.8" font-size="10.8" text-anchor="start" font-weight="bold" fill="#000" >d</text>
<rect x="367.7" y="362.1" width="310.9" height="200" rx="12" fill="none" stroke="#c2c2c2" stroke-width="1"/>
<path d="M492.3,359.4 L524.3,409.2 L495,480 L492.3,480 Z" fill="#c9c9c9"/>
<line x1="385.6" y1="395.3" x2="385.6" y2="475" stroke="#444" stroke-width="0.8"/>
<text x="381" y="437.4" font-size="6.6" text-anchor="end" font-weight="normal" fill="#1a1a1a" >120</text>
<text x="381" y="454.1" font-size="6.6" text-anchor="end" font-weight="normal" fill="#1a1a1a" >100</text>
<text x="381" y="470.6" font-size="6.6" text-anchor="end" font-weight="normal" fill="#1a1a1a" >80</text>
<path d="M404.1,428 V435.7 H422.6 V475" fill="none" stroke="#66bb7c" stroke-width="0.8"/>
<path d="M435.5,404 V475" fill="none" stroke="#66bb7c" stroke-width="0.8"/>
<path d="M464.7,428 V475" fill="none" stroke="#66bb7c" stroke-width="0.8"/>
<path d="M487,404 V475" fill="none" stroke="#66bb7c" stroke-width="0.8"/>
<path d="M586.6,428 V475" fill="none" stroke="#66bb7c" stroke-width="0.8"/>
<path d="M607.3,404 V417.7 H614.2 V475" fill="none" stroke="#66bb7c" stroke-width="0.8"/>
<path d="M639.8,428 V475" fill="none" stroke="#66bb7c" stroke-width="0.8"/>
<path d="M397.6,437.6 L400.4,457.3" stroke="#444" stroke-width="1.5" stroke-dasharray="1.3 1.6"/>
<polyline points="400.44,457.34 402.63,469.31 407.01,457.04 408.91,461.42 412.41,459.09 416.5,463.91 419.12,462.88 422.34,464.64 427.45,467.55 435.47,442.74 440.58,460.99 446.42,440.55 448.61,442.01 452.55,430.33 458.83,456.61 465.4,439.53 470.51,450.04 472.7,449.74 476.35,459.53 470.0,449.71 475.62,459.34 480.44,450.51 487.67,464.16 494.09,448.91 500.51,453.72 506.94,443.29 516.57,469.78 523.8,447.62 530.22,468.18 547.89,463.36" fill="none" stroke="#6b6b6b" stroke-width="1.8" stroke-linejoin="round"/>
<polyline points="547.9,463.4 551.13,469.05 555.22,465.37 559.31,469.05 563.39,468.64 568.5,463.94 571.16,465.37 573.61,460.47 576.68,446.57 579.74,462.92 582.81,460.47 585.87,463.94 593.03,429.2 596.5,444.52 599.77,439.42 606.31,459.85 608.36,458.83 611.42,463.94 621.03,432.26 624.3,452.7 628.38,436.35 632.47,453.72 635.95,432.67 640.03,450.66 642.08,449.63 644.73,464.96 647.19,460.87 649.23,458.42 652.3,459.24 655.36,450.66 657.0,452.7 659.45,451.68 661.49,457.81 663.95,456.79" fill="none" stroke="#1fa6de" stroke-width="1.8" stroke-linejoin="round"/>
<line x1="547.9" y1="416.9" x2="547.9" y2="463.4" stroke="#666" stroke-width="0.9"/>
<circle cx="547.9" cy="463.4" r="2.7" fill="#1a1a1a"/>
<line x1="565.5" y1="454.5" x2="573.6" y2="460.3" stroke="#222" stroke-width="0.6"/><circle cx="573.6" cy="460.3" r="1.4" fill="#1a1a1a"/>
<rect x="523.7" y="389.2" width="47.6" height="27.7" rx="3" fill="#fff" stroke="#cfe6e6" stroke-width="0.9"/>
<text x="547.4" y="406.5" font-size="6.6" text-anchor="middle" font-weight="normal" fill="#1a1a1a" >GluFormer</text>
<text x="563.5" y="426.7" font-size="6.7" text-anchor="middle" font-weight="normal" fill="#1a1a1a" >Glucose</text>
<text x="563.5" y="434.9" font-size="6.7" text-anchor="middle" font-weight="normal" fill="#1a1a1a" >response</text>
<text x="563.5" y="442.9" font-size="6.7" text-anchor="middle" font-weight="normal" fill="#1a1a1a" >based on</text>
<text x="563.5" y="450.6" font-size="6.7" text-anchor="middle" font-weight="normal" fill="#1a1a1a" >diet</text>
<path d="M403.1,418.2 L403.10,407.30 A10.9,10.9 0 0 1 413.99,418.58 Z" fill="#f4a835"/>
<path d="M403.1,418.2 L413.99,418.58 A10.9,10.9 0 0 1 405.37,428.86 Z" fill="#3b3838"/>
<path d="M403.1,418.2 L405.37,428.86 A10.9,10.9 0 1 1 403.10,407.30 Z" fill="#7ab6d6"/>
<path d="M435.7,393.3 L435.70,382.40 A10.9,10.9 0 1 1 429.45,402.23 Z" fill="#7d3c9f"/>
<path d="M435.7,393.3 L429.45,402.23 A10.9,10.9 0 0 1 425.82,397.91 Z" fill="#e6e6ea"/>
<path d="M435.7,393.3 L425.82,397.91 A10.9,10.9 0 0 1 434.75,382.44 Z" fill="#3b3838"/>
<path d="M435.7,393.3 L434.75,382.44 A10.9,10.9 0 0 1 435.70,382.40 Z" fill="#f4a835"/>
<path d="M464.2,417.9 L464.20,407.00 A10.9,10.9 0 0 1 475.06,416.95 Z" fill="#7d3c9f"/>
<path d="M464.2,417.9 L475.06,416.95 A10.9,10.9 0 0 1 474.82,420.35 Z" fill="#f4a835"/>
<path d="M464.2,417.9 L474.82,420.35 A10.9,10.9 0 0 1 474.62,421.09 Z" fill="#3b3838"/>
<path d="M464.2,417.9 L474.62,421.09 A10.9,10.9 0 1 1 464.20,407.00 Z" fill="#7ab6d6"/>
<path d="M486.9,393.3 L486.90,382.40 A10.9,10.9 0 1 1 476.11,391.78 Z" fill="#7d3c9f"/>
<path d="M486.9,393.3 L476.11,391.78 A10.9,10.9 0 0 1 486.90,382.40 Z" fill="#7ab6d6"/>
<path d="M586.4,417.6 L586.40,406.70 A10.9,10.9 0 0 1 588.11,406.83 Z" fill="#7d3c9f"/>
<path d="M586.4,417.6 L588.11,406.83 A10.9,10.9 0 0 1 590.13,407.36 Z" fill="#f4a835"/>
<path d="M586.4,417.6 L590.13,407.36 A10.9,10.9 0 0 1 591.52,407.98 Z" fill="#3b3838"/>
<path d="M586.4,417.6 L591.52,407.98 A10.9,10.9 0 1 1 586.40,406.70 Z" fill="#7ab6d6"/>
<path d="M607.5,393.4 L607.50,382.50 A10.9,10.9 0 0 1 616.09,400.11 Z" fill="#7d3c9f"/>
<path d="M607.5,393.4 L616.09,400.11 A10.9,10.9 0 0 1 607.88,404.29 Z" fill="#f4a835"/>
<path d="M607.5,393.4 L607.88,404.29 A10.9,10.9 0 0 1 601.72,402.64 Z" fill="#3b3838"/>
<path d="M607.5,393.4 L601.72,402.64 A10.9,10.9 0 0 1 607.50,382.50 Z" fill="#7ab6d6"/>
<path d="M640.1,417.6 L640.10,406.70 A10.9,10.9 0 0 1 642.37,406.94 Z" fill="#3b3838"/>
<path d="M640.1,417.6 L642.37,406.94 A10.9,10.9 0 0 1 643.47,407.23 Z" fill="#f4a835"/>
<path d="M640.1,417.6 L643.47,407.23 A10.9,10.9 0 0 1 649.72,412.48 Z" fill="#7d3c9f"/>
<path d="M640.1,417.6 L649.72,412.48 A10.9,10.9 0 1 1 640.10,406.70 Z" fill="#7ab6d6"/>
<text x="402.6" y="404.9" font-size="6.6" text-anchor="middle" font-weight="normal" fill="#1a1a1a" >Omelette</text>
<text x="435.4" y="380.0" font-size="6.6" text-anchor="middle" font-weight="normal" fill="#1a1a1a" >Chocolate</text>
<text x="463.6" y="404.9" font-size="6.6" text-anchor="middle" font-weight="normal" fill="#1a1a1a" >Pasta</text>
<text x="482" y="380.2" font-size="6.6" text-anchor="middle" font-weight="normal" fill="#1a1a1a" >Dates</text>
<text x="585.9" y="404.2" font-size="6.6" text-anchor="middle" font-weight="normal" fill="#1a1a1a" >Coffee</text>
<text x="607.3" y="380.2" font-size="6.6" text-anchor="middle" font-weight="normal" fill="#1a1a1a" >Pizza</text>
<text x="638.5" y="404.2" font-size="6.6" text-anchor="middle" font-weight="normal" fill="#1a1a1a" >Salad</text>
</svg>
</body></html>
